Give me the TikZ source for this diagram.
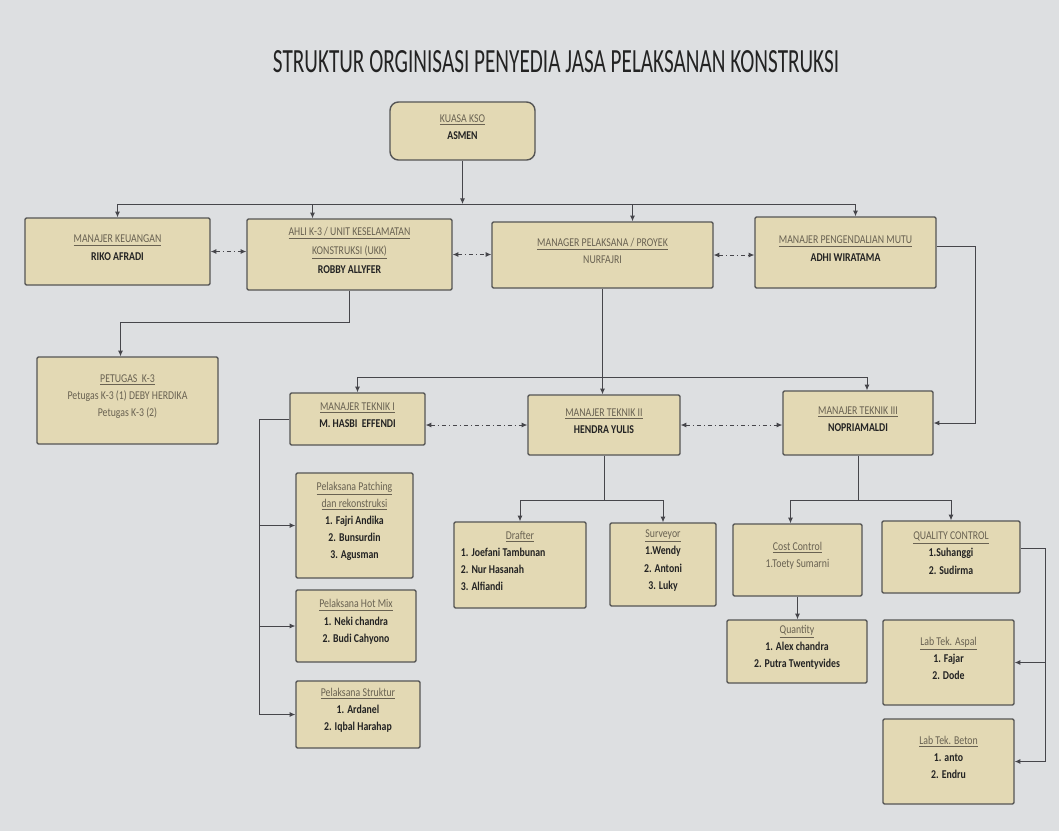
\documentclass[tikz,border=0pt]{standalone}
\usepackage{graphicx}
\usepackage{fontspec}
\setmainfont{Carlito}[FakeStretch=0.82]
\usepackage{tikz}
\usetikzlibrary{
    arrows.meta,
    positioning,
    fit,
    calc
}
\usepackage{xcolor}
\definecolor{paper}{RGB}{221,223,225}
\definecolor{boxfill}{RGB}{227,217,180}
\definecolor{boxline}{RGB}{85,85,85}
\definecolor{headtext}{RGB}{105,98,82}
\definecolor{nametext}{RGB}{35,35,35}
\definecolor{wirecol}{RGB}{70,70,75}

\newcommand{\hd}[1]{{\color{headtext}\underline{#1}}}
\newcommand{\nm}[1]{{\color{nametext}\bfseries #1}}
\newcommand{\lnm}[1]{\makebox[2.95cm][l]{\nm{#1}}}

\tikzset{
    orgbox/.style={draw=boxline, line width=1pt, fill=boxfill, inner sep=0pt,
        align=center, font=\fontsize{8.5}{12.2}\selectfont, rounded corners=1pt},
    wire/.style={draw=wirecol, line width=0.6pt},
    arr/.style={wire, -{Latex[length=4pt,width=3.5pt]}},
    peer/.style={wire, {Latex[length=4pt,width=3.5pt]}-{Latex[length=4pt,width=3.5pt]},
        dash pattern=on 3pt off 2pt on 0.8pt off 2pt}
}

\begin{document}
\begin{tikzpicture}[x=0.025cm, y=-0.025cm]

% paper
\fill[paper] (0,0) rectangle (1059,831);

\node[text=nametext] (title) at (556,62)
    {\resizebox{14.15cm}{0.55cm}{STRUKTUR ORGINISASI PENYEDIA JASA PELAKSANAN KONSTRUKSI}};

% Top
\node[orgbox, rounded corners=6pt, fit={(390,102) (535,160)}] (kuasa) {\hd{KUASA KSO}\\ \nm{ASMEN}};

% Managers
\node[orgbox, fit={(25,218) (210,285)}] (keu) {\hd{MANAJER KEUANGAN}\\ \nm{RIKO AFRADI}};
\node[orgbox, fit={(247,219) (452,290)}] (ahli)
    {\hd{AHLI K-3 / UNIT KESELAMATAN}\\[1pt] \hd{KONSTRUKSI (UKK)}\\[1pt] \nm{ROBBY ALLYFER}};
\node[orgbox, fit={(492,222) (713,288)}] (pel)
    {\hd{MANAGER PELAKSANA / PROYEK}\\ {\color{headtext}NURFAJRI}};
\node[orgbox, fit={(755,217) (936,288)}] (mutu) {\hd{MANAJER PENGENDALIAN MUTU}\\ \nm{ADHI WIRATAMA}};

\node[orgbox, fit={(37,357) (218,444)}] (petugas)
    {\hd{PETUGAS~~K-3}\\ {\color{headtext}Petugas K-3 (1) DEBY HERDIKA}\\ {\color{headtext}Petugas K-3 (2)}};

% Teknik
\node[orgbox, fit={(290,393) (425,445)}] (tek1) {\hd{MANAJER TEKNIK I}\\ \nm{M. HASBI~~EFFENDI}};
\node[orgbox, fit={(528,395) (680,455)}] (tek2) {\hd{MANAJER TEKNIK II}\\ \nm{HENDRA YULIS}};
\node[orgbox, fit={(783,391) (933,455)}] (tek3) {\hd{MANAJER TEKNIK III}\\ \nm{NOPRIAMALDI}};

% Pelaksana lapangan
\node[orgbox, fit={(296,473) (413,578)}] (patch)
    {\hd{Pelaksana Patching}\\ \hd{dan rekonstruksi}\\ \nm{1. Fajri Andika}\\ \nm{2. Bunsurdin}\\ \nm{3. Agusman}};
\node[orgbox, fit={(296,590) (416,662)}] (hotmix)
    {\hd{Pelaksana Hot Mix}\\ \nm{1. Neki chandra}\\ \nm{2. Budi Cahyono}};
\node[orgbox, fit={(296,681) (420,748)}] (struk)
    {\hd{Pelaksana Struktur}\\ \nm{1. Ardanel}\\ \nm{2. Iqbal Harahap}};

\node[orgbox, fit={(454,522) (586,608)}] (drafter)
    {\hd{Drafter}\\ \lnm{1. Joefani Tambunan}\\ \lnm{2. Nur Hasanah}\\ \lnm{3. Alfiandi}};
\node[orgbox, fit={(610,523) (716,606)}] (surv)
    {\hd{Surveyor}\\ \nm{1.Wendy}\\ \nm{2. Antoni}\\ \nm{3. Luky}};

\node[orgbox, fit={(733,524) (862,596)}] (cost) {\hd{Cost Control}\\ {\color{headtext}1.Toety Sumarni}};
\node[orgbox, fit={(882,521) (1020,593)}] (qc) {\hd{QUALITY CONTROL}\\ \nm{1.Suhanggi}\\ \nm{2. Sudirma}};
\node[orgbox, fit={(727,620) (867,683)}] (qty) {\hd{Quantity}\\ \nm{1. Alex chandra}\\ \nm{2. Putra Twentyvides}};
\node[orgbox, fit={(883,620) (1014,705)}] (aspal) {\hd{Lab Tek. Aspal}\\ \nm{1. Fajar}\\ \nm{2. Dode}};
\node[orgbox, fit={(883,719) (1014,804)}] (beton) {\hd{Lab Tek. Beton}\\ \nm{1. anto}\\ \nm{2. Endru}};

% connectors, top level
\coordinate (busA) at (462,204);
\coordinate (ahliIn) at ($(ahli.north)+(-37,0)$);
\coordinate (pelIn) at ($(pel.north)+(30,0)$);
\coordinate (mutuIn) at ($(mutu.north)+(10,0)$);
\draw[arr] (kuasa.south) -- (kuasa.south |- busA);
\draw[wire] (keu.north |- busA) -- (mutuIn |- busA);
\draw[arr] (keu.north |- busA) -- (keu.north);
\draw[arr] (ahliIn |- busA) -- (ahliIn);
\draw[arr] (pelIn |- busA) -- (pelIn);
\draw[arr] (mutuIn |- busA) -- (mutuIn);

\draw[peer] (keu.east) -- (keu.east -| ahli.west);
\draw[peer] (ahli.east) -- (ahli.east -| pel.west);
\draw[peer] (pel.east) -- (pel.east -| mutu.west);

\draw[arr] (ahli.south) -- ++(0,32) -| ($(petugas.north)+(-7,0)$);

% connectors, teknik
\coordinate (busB) at (602,377);
\coordinate (tek3In) at ($(tek3.north)+(9,0)$);
\draw[arr] (pel.south) -- (pel.south |- tek2.north);
\draw[wire] (tek1.north |- busB) -- (tek3In |- busB);
\draw[arr] (tek1.north |- busB) -- (tek1.north);
\draw[arr] (tek3In |- busB) -- (tek3In);

\draw[arr] ($(mutu.east)+(0,-6)$) -- ++(39,0) |- (tek3.east);

\draw[peer] ($(tek1.east)+(0,6)$) -- ($(tek1.east -| tek2.west)+(0,6)$);
\draw[peer] (tek2.east) -- (tek2.east -| tek3.west);

% Teknik I
\coordinate (spineA) at ($(tek1.west)+(-30,0)$);
\draw[wire] (tek1.west) -- (spineA) -- (spineA |- struk.west);
\draw[arr] (spineA |- patch.west) -- (patch.west);
\draw[arr] (spineA |- hotmix.west) -- (hotmix.west);
\draw[arr] (spineA |- struk.west) -- (struk.west);

% Teknik II
\coordinate (busC) at ($(tek2.south)+(0,45)$);
\draw[wire] (tek2.south) -- (busC);
\draw[arr] (busC) -| (drafter.north);
\draw[arr] (busC) -| (surv.north);

% Teknik III
\coordinate (busD) at ($(tek3.south)+(0,45)$);
\draw[wire] (tek3.south) -- (busD);
\draw[arr] (busD) -| ($(cost.north)+(-7,0)$);
\draw[arr] (busD) -| (qc.north);
\draw[arr] (cost.south) -- (cost.south |- qty.north);

\coordinate (spineB) at ($(qc.east)+(25,-9)$);
\draw[wire] ($(qc.east)+(0,-9)$) -- (spineB) -- (spineB |- beton.east);
\draw[arr] (spineB |- aspal.east) -- (aspal.east);
\draw[arr] (spineB |- beton.east) -- (beton.east);

\end{tikzpicture}
\end{document}
